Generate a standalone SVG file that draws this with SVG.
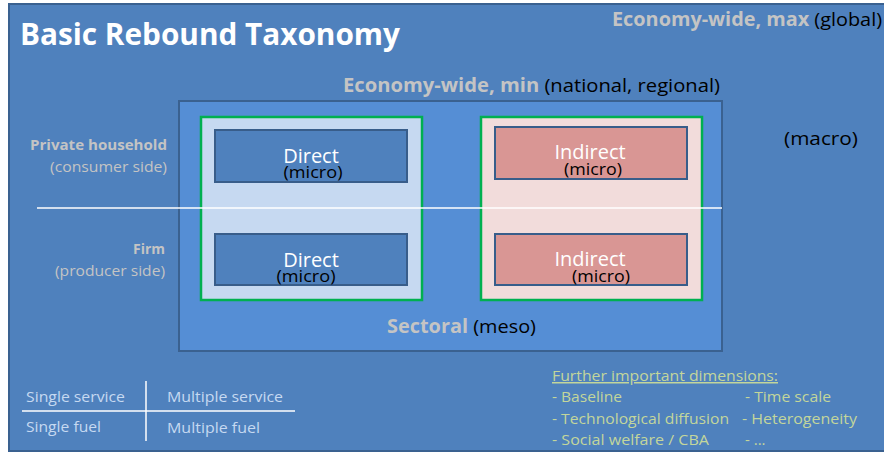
<svg xmlns="http://www.w3.org/2000/svg" width="884" height="454" viewBox="0 0 884 454">
<style>
text{font-family:"Open Sans","Liberation Sans",sans-serif}
.gray{fill:#c4c4c4;font-weight:bold}
.blk{fill:#000;font-weight:normal}
.lbl{fill:#c4c4c4;font-size:15px}
.box{stroke:#385d8a;stroke-width:2}
.w{fill:#fff;font-size:20px;text-anchor:middle}
.m{fill:#000;font-size:17px;text-anchor:middle}
.tbl{fill:#c6d9f1;font-size:15px}
.dim{fill:#c3d69b;font-size:15px}
</style>
<rect x="0" y="0" width="884" height="454" fill="#ffffff"/>
<g id="slide">
<rect x="9" y="4" width="880" height="447" fill="#4f81bd" stroke="#3a6190" stroke-width="2"/>
<text x="20" y="45" fill="#fff" font-size="30" font-weight="bold" textLength="380" lengthAdjust="spacingAndGlyphs">Basic Rebound Taxonomy</text>
<text x="612" y="26" font-size="19" textLength="270" lengthAdjust="spacingAndGlyphs"><tspan class="gray">Economy-wide, max </tspan><tspan class="blk">(global)</tspan></text>
<text x="784" y="145" font-size="19" class="blk" textLength="74" lengthAdjust="spacingAndGlyphs">(macro)</text>
</g>
<g id="meso">
<rect x="179" y="101" width="543" height="250" fill="#558ed5" stroke="#3a6190" stroke-width="2"/>
<text x="343" y="92" font-size="19" textLength="377" lengthAdjust="spacingAndGlyphs"><tspan class="gray">Economy-wide, min </tspan><tspan class="blk">(national, regional)</tspan></text>
<text x="387" y="333" font-size="19" textLength="149" lengthAdjust="spacingAndGlyphs"><tspan class="gray">Sectoral </tspan><tspan class="blk">(meso)</tspan></text>
</g>
<g id="direct-group">
<rect x="201" y="117" width="221" height="183" fill="#c6d9f1" stroke="#00b050" stroke-width="2.5"/>
</g>
<g id="indirect-group">
<rect x="481" y="117" width="221" height="183" fill="#f2dcdb" stroke="#00b050" stroke-width="2.5"/>
</g>
<g id="connectors">
<line x1="37" y1="208" x2="722" y2="208" stroke="#ffffff" stroke-width="1.5"/>
</g>
<g id="direct-household">
<rect class="box" x="215" y="130" width="192" height="52" fill="#4f81bd"/>
<text class="w" x="311" y="163">Direct</text>
<text class="m" x="313" y="178" textLength="59" lengthAdjust="spacingAndGlyphs">(micro)</text>
</g>
<g id="direct-firm">
<rect class="box" x="215" y="234" width="192" height="51" fill="#4f81bd"/>
<text class="w" x="311" y="267">Direct</text>
<text class="m" x="306" y="282" textLength="59" lengthAdjust="spacingAndGlyphs">(micro)</text>
</g>
<g id="indirect-household">
<rect class="box" x="495" y="127" width="192" height="52" fill="#d99694"/>
<text class="w" x="590" y="159">Indirect</text>
<text class="m" x="593" y="175" textLength="58" lengthAdjust="spacingAndGlyphs">(micro)</text>
</g>
<g id="indirect-firm">
<rect class="box" x="495" y="234" width="192" height="51" fill="#d99694"/>
<text class="w" x="590" y="266">Indirect</text>
<text class="m" x="601" y="282" textLength="58" lengthAdjust="spacingAndGlyphs">(micro)</text>
</g>
<g id="actors">
<text class="lbl" x="167" y="150" text-anchor="end" font-weight="bold" textLength="137" lengthAdjust="spacingAndGlyphs">Private household</text>
<text class="lbl" x="167" y="172" text-anchor="end" textLength="117" lengthAdjust="spacingAndGlyphs">(consumer side)</text>
<text class="lbl" x="165" y="254" text-anchor="end" font-weight="bold" textLength="32" lengthAdjust="spacingAndGlyphs">Firm</text>
<text class="lbl" x="165" y="276" text-anchor="end" textLength="110" lengthAdjust="spacingAndGlyphs">(producer side)</text>
</g>
<g id="table">
<line x1="146" y1="381" x2="146" y2="441" stroke="#fff" stroke-width="1.5"/>
<line x1="22" y1="411" x2="295" y2="411" stroke="#fff" stroke-width="1.5"/>
<text class="tbl" x="26" y="402" textLength="99" lengthAdjust="spacingAndGlyphs">Single service</text>
<text class="tbl" x="167" y="402" textLength="116" lengthAdjust="spacingAndGlyphs">Multiple service</text>
<text class="tbl" x="26" y="432" textLength="75" lengthAdjust="spacingAndGlyphs">Single fuel</text>
<text class="tbl" x="167" y="433" textLength="93" lengthAdjust="spacingAndGlyphs">Multiple fuel</text>
</g>
<g id="dimensions">
<text class="dim" x="552" y="381" text-decoration="underline" textLength="226" lengthAdjust="spacingAndGlyphs">Further important dimensions:</text>
<text class="dim" x="552" y="402" textLength="70" lengthAdjust="spacingAndGlyphs">- Baseline</text>
<text class="dim" x="745" y="402" textLength="86" lengthAdjust="spacingAndGlyphs">- Time scale</text>
<text class="dim" x="552" y="424" textLength="177" lengthAdjust="spacingAndGlyphs">- Technological diffusion</text>
<text class="dim" x="742" y="424" textLength="115" lengthAdjust="spacingAndGlyphs">- Heterogeneity</text>
<text class="dim" x="552" y="445" textLength="157" lengthAdjust="spacingAndGlyphs">- Social welfare / CBA</text>
<text class="dim" x="745" y="445">- ...</text>
</g>
</svg>
